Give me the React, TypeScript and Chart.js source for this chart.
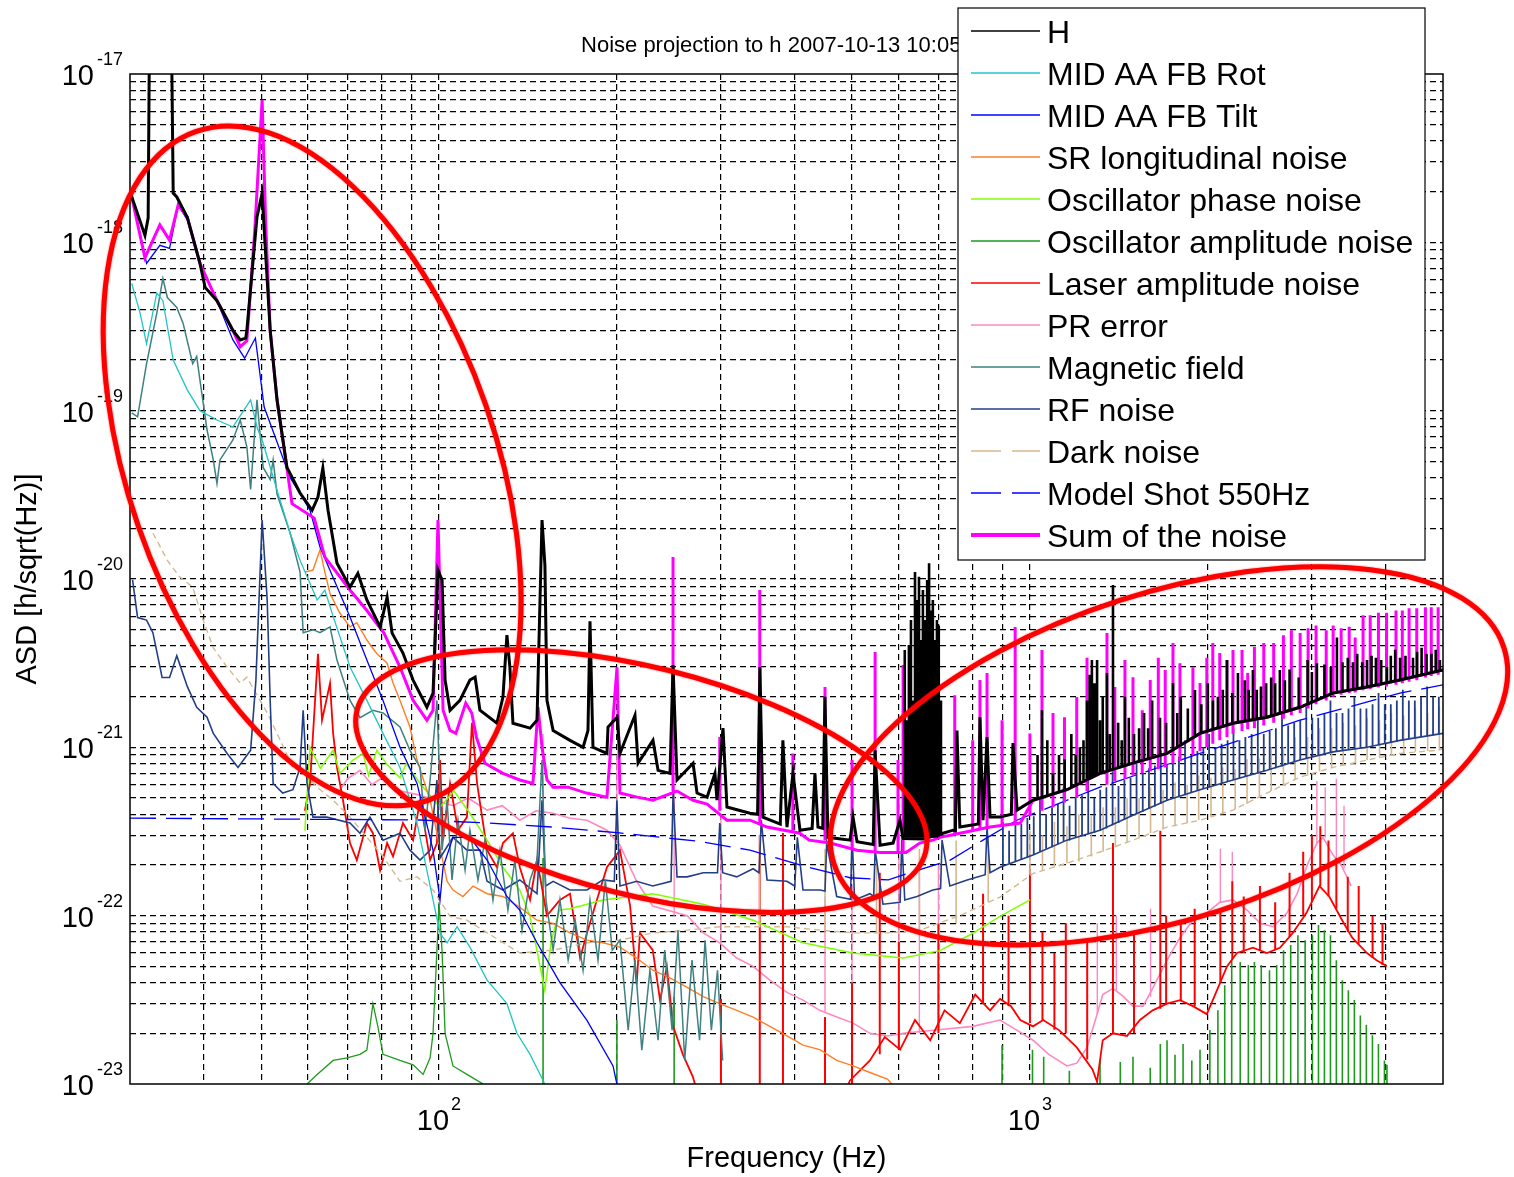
import React, { useEffect, useRef } from "react";
import { Chart, registerables } from "chart.js";

Chart.register(...registerables);

type Pt = [number, number];
type Spk = [number, number, number];

const X_MIN = 30;
const X_MAX = 5000;
const Y_MIN = 1e-23;
const Y_MAX = 1e-17;

const TITLE = "Noise projection to h 2007-10-13 10:05:00";
const X_TITLE = "Frequency (Hz)";
const Y_TITLE = "ASD [h/sqrt(Hz)]";

const X_GRID = [40, 50, 60, 70, 80, 90, 100, 200, 300, 400, 500, 600, 700, 800, 900, 1000, 2000, 3000, 4000];
const Y_GRID = [
  2e-23, 3e-23, 4e-23, 5e-23, 6e-23, 7e-23, 8e-23, 9e-23,
  1e-22, 2e-22, 3e-22, 4e-22, 5e-22, 6e-22, 7e-22, 8e-22, 9e-22,
  1e-21, 2e-21, 3e-21, 4e-21, 5e-21, 6e-21, 7e-21, 8e-21, 9e-21,
  1e-20, 2e-20, 3e-20, 4e-20, 5e-20, 6e-20, 7e-20, 8e-20, 9e-20,
  1e-19, 2e-19, 3e-19, 4e-19, 5e-19, 6e-19, 7e-19, 8e-19, 9e-19,
  1e-18, 2e-18, 3e-18, 4e-18, 5e-18, 6e-18, 7e-18, 8e-18, 9e-18,
];
const X_TICK_LABELS: [number, string][] = [[100, "2"], [1000, "3"]];
const Y_TICK_LABELS: [number, string][] = [
  [1e-23, "-23"], [1e-22, "-22"], [1e-21, "-21"], [1e-20, "-20"], [1e-19, "-19"], [1e-18, "-18"], [1e-17, "-17"],
];

// ---------------- H ----------------
const H_LINE: Pt[] = [
  [30, 2.0e-18], [31.8, 1.1e-18], [32.2, 1.4e-18], [32.4, 3e-17], [35.2, 3e-17], [35.5, 1.96e-18], [36.0, 1.86e-18],
  [37.5, 1.41e-18], [39.4, 7.5e-19], [40.2, 5.4e-19], [42.1, 4.5e-19], [44.8, 3.0e-19], [46.1, 2.63e-19], [47.1, 2.7e-19],
  [47.3, 3.0e-19], [49.2, 1.41e-18], [50.2, 1.96e-18], [50.6, 1.2e-18], [51.8, 3.0e-19], [53.2, 1.16e-19], [55.3, 4.6e-20],
  [58.2, 3.24e-20], [61.0, 2.56e-20], [62.4, 3.07e-20], [63.6, 4.56e-20], [64.9, 2.56e-20], [67.2, 1.24e-20], [70.7, 8.95e-21],
  [72.9, 1.08e-20], [75.5, 7.5e-21], [79.5, 5.18e-21], [81.7, 7.8e-21], [83.3, 4.77e-21], [86.9, 3.63e-21], [90.4, 2.51e-21],
  [95.4, 1.73e-21], [97.7, 2.1e-21], [99.6, 1.13e-20], [101.2, 9.85e-21], [102.4, 2.51e-21], [104.4, 1.66e-21], [108.5, 1.9e-21],
  [112.8, 2.51e-21], [115.1, 2.61e-21], [117.3, 1.66e-21], [125.3, 1.39e-21], [128.3, 1.99e-21], [130.3, 4.64e-21], [131.8, 3.0e-21],
  [133.4, 1.39e-21], [142.6, 1.3e-21], [146.5, 1.45e-21], [149.4, 2.24e-20], [151.1, 1.2e-20], [152.3, 1.9e-21], [156.0, 1.26e-21],
  [166.6, 1.1e-21], [175.3, 1.0e-21], [178.7, 1.26e-21], [180.1, 5.6e-21], [182.2, 1.0e-21], [192.4, 9.2e-22], [193.2, 1.32e-21],
  [200.1, 1.51e-21], [202.4, 9.2e-22], [214.6, 1.55e-21], [217.2, 8.05e-22], [230.2, 1.1e-21], [234.8, 7.3e-22], [246, 7.0e-22],
  [248.9, 3.08e-21], [252.8, 6.4e-22], [269.1, 8.05e-22], [273.3, 5.35e-22], [284.2, 5.06e-22], [293.1, 7.0e-22], [295.4, 4.85e-22],
  [302.4, 1.3e-21], [307.1, 4.42e-22], [335.9, 4.06e-22], [346, 4.0e-22], [349.2, 3.0e-21], [353.3, 3.85e-22], [378, 3.5e-22],
  [381.9, 1.1e-21], [388.0, 3.36e-22], [397.2, 7.0e-22], [408.2, 3.22e-22], [428, 3.3e-22], [432.7, 7.0e-22], [437.8, 3.36e-22],
  [446, 3.3e-22], [449.9, 2.0e-21], [455.2, 2.92e-22], [496.1, 2.81e-22], [501.9, 3.85e-22], [509.8, 2.75e-22], [543, 2.65e-22],
  [546.9, 9.6e-22], [557.7, 2.62e-22], [586.7, 2.7e-22], [602.6, 3.69e-22], [609.7, 2.87e-22], [660, 2.85e-22], [712.6, 3.09e-22],
  [741, 3.22e-22], [748, 3.2e-22], [752.5, 1.26e-21], [761, 3.36e-22], [818, 3.5e-22], [823, 1.51e-21], [833, 3.69e-22],
  [846, 1.15e-21], [856, 3.85e-22], [890, 3.85e-22], [930, 4.0e-22], [936, 1.06e-21], [951, 4.24e-22], [1012, 4.85e-22],
  [1155, 5.6e-22], [1314, 7.0e-22], [1494, 8.05e-22], [1706, 9.2e-22], [1940, 1.21e-21], [2206, 1.39e-21], [2518, 1.51e-21],
  [2863, 1.73e-21], [3256, 2.1e-21], [3718, 2.28e-21], [4228, 2.51e-21], [5000, 2.88e-21],
];
const H_SPIKES: Spk[] = [
  [614, 2.9e-22, 3.78e-21], [619, 2.9e-22, 1.45e-21], [624, 2.9e-22, 4.05e-21], [629, 2.9e-22, 5.7e-21], [634, 2.9e-22, 1.9e-21],
  [639, 2.9e-22, 1.1e-20], [644, 2.9e-22, 7.5e-21], [649, 2.9e-22, 1.03e-20], [654, 2.9e-22, 4.34e-21], [659, 2.9e-22, 8.6e-21],
  [665, 2.9e-22, 5.7e-21], [670, 2.9e-22, 9.85e-21], [675, 2.9e-22, 1.24e-20], [680, 2.9e-22, 6.5e-21], [685, 2.9e-22, 7.5e-21],
  [691, 2.9e-22, 4.34e-21], [696, 2.9e-22, 5.7e-21], [701, 2.95e-22, 5.3e-21], [707, 3.0e-22, 1.9e-21],
  [1030, 4.9e-22, 9e-22], [1048, 4.95e-22, 1.66e-21], [1070, 5.2e-22, 1.1e-21], [1094, 5.3e-22, 7.0e-22], [1120, 5.4e-22, 9e-22],
  [1145, 5.55e-22, 8.5e-22], [1175, 5.8e-22, 1.2e-21], [1195, 6.0e-22, 9e-22], [1215, 6.2e-22, 1.0e-21], [1232, 6.35e-22, 1.1e-21],
  [1249, 6.5e-22, 1.9e-21], [1262, 6.6e-22, 2.7e-21], [1273, 6.7e-22, 3.3e-21],
  [1286, 6.8e-22, 2.4e-21], [1299, 6.9e-22, 3.3e-21], [1314, 7.0e-22, 1.45e-21], [1328, 7.1e-22, 2.0e-21], [1350, 7.2e-22, 2.76e-21],
  [1365, 7.25e-22, 1.2e-21], [1382, 7.3e-22, 9.2e-21], [1410, 7.5e-22, 1.4e-21], [1430, 7.6e-22, 1.1e-21], [1448, 7.7e-22, 2.0e-21],
  [1470, 7.9e-22, 1.5e-21], [1500, 8.05e-22, 1.2e-21], [1530, 8.2e-22, 1.3e-21],
  [1560, 8.4e-22, 1.6e-21], [1585, 8.55e-22, 1.3e-21], [1610, 8.7e-22, 1.9e-21], [1660, 9.0e-22, 1.5e-21], [1700, 9.2e-22, 1.4e-21],
  [1746, 9.5e-22, 2.41e-21], [1775, 1.0e-21, 1.6e-21], [1800, 1.05e-21, 2.0e-21],
  [1850, 1.1e-21, 1.7e-21], [1902, 1.15e-21, 2.19e-21], [1950, 1.2e-21, 1.8e-21], [2000, 1.25e-21, 2.4e-21], [2040, 1.28e-21, 1.9e-21],
  [2080, 1.3e-21, 2.0e-21], [2120, 1.33e-21, 2.2e-21], [2155, 1.35e-21, 3.3e-21], [2200, 1.38e-21, 2.1e-21],
  [2249, 1.4e-21, 2.76e-21], [2310, 1.43e-21, 2.5e-21], [2345, 1.44e-21, 2.2e-21], [2384, 1.45e-21, 2.88e-21], [2420, 1.48e-21, 2.2e-21],
  [2460, 1.5e-21, 2.3e-21], [2510, 1.51e-21, 2.4e-21], [2560, 1.53e-21, 2.6e-21], [2600, 1.56e-21, 2.4e-21],
  [2648, 1.6e-21, 2.88e-21], [2700, 1.62e-21, 2.5e-21], [2750, 1.65e-21, 2.9e-21], [2850, 1.72e-21, 2.6e-21], [2950, 1.8e-21, 3.3e-21],
  [3000, 1.85e-21, 2.8e-21], [3059, 1.9e-21, 3.16e-21], [3150, 2.0e-21, 3.1e-21], [3230, 2.05e-21, 3.0e-21],
  [3307, 2.1e-21, 4.5e-21], [3380, 2.12e-21, 3.2e-21], [3450, 2.15e-21, 3.4e-21], [3520, 2.18e-21, 3.2e-21], [3580, 2.2e-21, 3.6e-21],
  [3650, 2.24e-21, 3.2e-21], [3718, 2.28e-21, 3.3e-21], [3785, 2.3e-21, 3.5e-21], [3850, 2.33e-21, 3.4e-21], [3930, 2.37e-21, 3.3e-21],
  [4019, 2.4e-21, 3.0e-21], [4080, 2.44e-21, 3.5e-21], [4150, 2.48e-21, 3.8e-21], [4230, 2.51e-21, 3.4e-21], [4320, 2.55e-21, 3.5e-21],
  [4448, 2.6e-21, 3.4e-21], [4520, 2.65e-21, 3.7e-21], [4600, 2.7e-21, 3.9e-21], [4690, 2.74e-21, 3.6e-21],
  [4780, 2.78e-21, 3.6e-21], [4860, 2.82e-21, 3.8e-21], [4940, 2.85e-21, 3.3e-21],
];

// ---------------- MID AA FB Rot ----------------
const ROT_LINE: Pt[] = [
  [30.2, 5.7e-19], [31.2, 3.8e-19], [32.0, 2.5e-19], [33.3, 5.0e-19], [34.1, 4.5e-19], [35.5, 2.0e-19], [37.5, 1.33e-19],
  [39.4, 1.0e-19], [42.1, 8.8e-20], [44.8, 8.0e-20], [48.0, 1.16e-19], [49.2, 8.0e-20], [50.4, 6.4e-20], [53.2, 3.37e-20],
  [56.0, 1.87e-20], [58.2, 1.29e-20], [62.2, 7.5e-21], [64.1, 8.6e-21], [66.2, 6.0e-21], [70.7, 3.0e-21], [75.5, 1.9e-21],
  [80.4, 1.21e-21], [85.9, 7.6e-22], [91.8, 3.55e-22], [97.7, 1.24e-22], [100.4, 7.87e-23], [103.2, 6.9e-23], [107.3, 8.6e-23],
  [112.8, 6.5e-23], [120.6, 4.14e-23], [130.3, 3.0e-23], [135.5, 2.0e-23], [142.6, 1.5e-23], [150, 1.05e-23], [153, 9e-24],
];

// ---------------- MID AA FB Tilt ----------------
const TILT_LINE: Pt[] = [
  [30.2, 1.9e-18], [32.0, 7.5e-19], [33.7, 9.6e-19], [35.0, 9.2e-19], [36.2, 1.67e-18], [37.5, 1.36e-18], [39.4, 7.5e-19],
  [42.1, 4.5e-19], [44.8, 2.63e-19], [46.9, 2.05e-19], [48.9, 2.7e-19], [50.6, 1.05e-19], [56.0, 4.0e-20], [60.5, 2.56e-20],
  [62.9, 1.55e-20], [70.7, 5.94e-21], [75.5, 3.3e-21], [80.4, 1.9e-21], [85.9, 1.0e-21], [91.8, 6.1e-22], [97.7, 2.45e-22],
  [100.4, 1.24e-22], [101.6, 1.94e-22], [105.6, 2.92e-22], [112.8, 2.92e-22], [120.6, 2.14e-22], [130.3, 1.3e-22], [137, 1.08e-22],
  [146.5, 6.9e-23], [160.2, 4.0e-23], [178, 2.39e-23], [197, 1.28e-23], [200, 1.0e-23],
];

// ---------------- SR longitudinal noise ----------------
const SR_LINE: Pt[] = [
  [59.3, 1.1e-20], [61.2, 1.13e-20], [62.9, 1.49e-20], [64.1, 1.1e-20], [65.4, 8.2e-21], [67.9, 6.3e-21], [70.7, 5.2e-21],
  [72.6, 5.5e-21], [75.5, 4.34e-21], [78.5, 3.6e-21], [81.7, 3.16e-21], [83.6, 2.41e-21], [85.9, 1.9e-21], [89.3, 1.32e-21],
  [91.8, 8.4e-22], [96.6, 4.85e-22], [99.2, 3.09e-22], [103.2, 1.6e-22], [105.6, 1.42e-22], [109.8, 1.3e-22], [114.2, 1.5e-22],
  [120.6, 1.35e-22], [128.3, 1.3e-22], [137, 1.12e-22], [146.5, 9.4e-23], [156, 9.0e-23], [166.6, 7.9e-23], [178, 7.15e-23],
  [189.4, 6.9e-23], [202.4, 6.5e-23], [216, 5.6e-23], [230, 4.74e-23], [245, 4.3e-23], [263, 3.75e-23], [280, 3.3e-23],
  [298.6, 3.0e-23], [319, 2.74e-23], [340, 2.5e-23], [363, 2.2e-23], [388, 1.93e-23], [413, 1.7e-23], [441, 1.6e-23],
  [471, 1.38e-23], [502, 1.28e-23], [536, 1.17e-23], [574, 1.07e-23], [591, 9.5e-24],
];

// ---------------- Oscillator phase noise ----------------
const PHASE_LINE: Pt[] = [
  [59.3, 3.2e-22], [60.5, 1.0e-21], [63, 7.5e-22], [66.2, 9.6e-22], [68, 7e-22], [71.5, 8.4e-22], [74.4, 9.2e-22], [76, 6.8e-22],
  [78.5, 9.6e-22], [81.7, 7.9e-22], [85.9, 6.6e-22], [88, 8e-22], [92.9, 6.1e-22], [100.4, 4.4e-22], [106, 5.5e-22],
  [112.8, 4.06e-22], [120.6, 2.81e-22], [128.3, 1.94e-22], [137, 1.42e-22], [142.6, 9.9e-23], [146.5, 6.2e-23], [151, 3.6e-23],
  [155, 7.15e-23], [160, 1.08e-22], [166.6, 1.1e-22], [189.4, 1.24e-22], [230, 1.35e-22], [280, 1.17e-22], [340, 9.4e-23],
  [413, 6.9e-23], [502, 6.0e-23], [610, 5.6e-23], [704, 6.2e-23], [792, 7.7e-23], [890, 9.9e-23], [1000, 1.24e-22],
];

// ---------------- Oscillator amplitude noise ----------------
const AMP_LINE: Pt[] = [
  [59.8, 1.0e-23], [62.2, 1.14e-23], [66.2, 1.38e-23], [69.9, 1.43e-23], [73.5, 1.5e-23], [75.5, 1.59e-23], [77.3, 3.0e-23],
  [78.8, 2.2e-23], [80.4, 1.5e-23], [85.9, 1.38e-23], [90.4, 1.3e-23], [94, 1.14e-23], [96.6, 1.43e-23], [97.7, 2.0e-23],
  [99.2, 6.2e-23], [100, 1.2e-22], [101.2, 6.2e-23], [102.4, 2.0e-23], [105.6, 1.28e-23], [111.5, 1.14e-23], [118.7, 1.0e-23],
  [121.9, 7e-24],
];
const AMP_SPIKES: Spk[] = [
  [150, 5e-24, 2.2e-22], [200, 5e-24, 2.4e-23], [250, 5e-24, 3.3e-23], [897, 5e-24, 1.7e-23], [1010, 5e-24, 1.6e-23],
  [1055, 5e-24, 1.45e-23], [1166, 5e-24, 1.2e-23], [1314, 5e-24, 1.38e-23], [1422, 5e-24, 1.35e-23], [1494, 5e-24, 1.45e-23],
  [1598, 5e-24, 1.25e-23], [1662, 5e-24, 1.73e-23], [1706, 5e-24, 1.82e-23], [1760, 5e-24, 1.49e-23], [1816, 5e-24, 1.73e-23],
  [1879, 5e-24, 1.38e-23], [1940, 5e-24, 1.6e-23], [2016, 5e-24, 2.09e-23], [2080, 5e-24, 2.74e-23], [2136, 5e-24, 3.86e-23],
  [2195, 5e-24, 5.44e-23], [2269, 5e-24, 5.3e-23], [2342, 5e-24, 5.1e-23], [2398, 5e-24, 5.3e-23], [2463, 5e-24, 5.1e-23],
  [2543, 5e-24, 4.74e-23], [2615, 5e-24, 5.1e-23], [2686, 5e-24, 6.24e-23], [2762, 5e-24, 6.7e-23], [2841, 5e-24, 7.66e-23],
  [2922, 5e-24, 7.15e-23], [3006, 5e-24, 7.66e-23], [3078, 5e-24, 8.8e-23], [3150, 5e-24, 8.2e-23], [3225, 5e-24, 7.66e-23],
  [3300, 5e-24, 5.44e-23], [3378, 5e-24, 4.14e-23], [3458, 5e-24, 3.6e-23], [3540, 5e-24, 3.15e-23], [3623, 5e-24, 2.55e-23],
  [3709, 5e-24, 2.25e-23], [3798, 5e-24, 1.95e-23], [3888, 5e-24, 1.73e-23], [3980, 5e-24, 1.38e-23], [4019, 5e-24, 1.3e-23],
];

// ---------------- Laser amplitude noise ----------------
const LASER_LINE: Pt[] = [
  [59.3, 4.2e-22], [60.5, 6.1e-22], [61.7, 1.9e-21], [62.4, 3.6e-21], [63.4, 1.45e-21], [65.4, 2.4e-21], [66.2, 1.21e-21],
  [67.2, 7.6e-22], [68.8, 4.85e-22], [70.7, 2.7e-22], [72.6, 2.14e-22], [75.5, 3.55e-22], [77.3, 3.09e-22], [79.5, 1.86e-22],
  [81.7, 2.7e-22], [83.6, 2.25e-22], [86.9, 3.55e-22], [90.4, 2.81e-22], [92.9, 4.85e-22], [96.6, 2.14e-22], [99.2, 2.7e-22],
  [100.4, 8.4e-22], [101.6, 2.81e-22], [104.4, 6.1e-22], [107.7, 3.22e-22], [111.5, 3.85e-22], [113.7, 1.4e-21], [116, 6.1e-22],
  [120.6, 2.45e-22], [125.3, 1.94e-22], [128.3, 2.7e-22], [133.4, 3.09e-22], [137, 1.94e-22], [142.6, 1.24e-22], [146.5, 2.14e-22],
  [152.3, 1.0e-22], [160.2, 1.24e-22], [166.6, 1.35e-22], [173.3, 5.6e-23], [178, 7.9e-23], [185, 1.24e-22], [192.4, 1.94e-22],
  [202.4, 2.45e-22], [210.6, 1.14e-22], [216, 3.9e-23], [218.8, 7.9e-23], [230, 6.24e-23], [236.6, 3.15e-23], [243, 5.0e-23],
  [249, 2.2e-23], [258.6, 1.5e-23], [269, 1.1e-23], [276, 8e-24], [480, 8e-24], [496, 1.05e-23], [536, 1.38e-23], [568, 1.9e-23],
  [603, 1.6e-23], [639, 2.4e-23], [678, 1.82e-23], [717, 2.74e-23], [761, 2.3e-23], [808, 3.4e-23], [856, 2.74e-23],
  [890, 3.2e-23], [929, 2.9e-23], [963, 2.4e-23], [1012, 2.2e-23], [1053, 2.4e-23], [1120, 2.09e-23], [1200, 1.65e-23],
  [1276, 1.22e-23], [1299, 1.03e-23], [1328, 1.82e-23], [1382, 2.0e-23], [1460, 1.93e-23], [1535, 2.4e-23], [1613, 2.74e-23],
  [1706, 3.0e-23], [1794, 3.15e-23], [1887, 2.9e-23], [1992, 2.6e-23], [2039, 3.15e-23], [2155, 5.0e-23], [2240, 6.0e-23],
  [2384, 6.45e-23], [2518, 6.0e-23], [2648, 6.45e-23], [2785, 7.9e-23], [2938, 1.04e-22], [3090, 1.5e-22], [3210, 1.3e-22],
  [3375, 9.4e-23], [3510, 7.4e-23], [3718, 6.0e-23], [3860, 5.44e-23], [4019, 5.0e-23],
];
const LASER_SPIKES: Spk[] = [
  [300, 5e-24, 3.2e-23], [349, 5e-24, 3.0e-22], [382, 5e-24, 3.1e-22], [450, 5e-24, 2.5e-23], [500, 5e-24, 4e-23],
  [557, 1.5e-23, 1.8e-22], [600, 1.6e-23, 7e-23], [700, 2e-23, 9e-23], [833, 3e-23, 1.35e-22], [920, 2.9e-23, 1.0e-22],
  [1000, 2.3e-23, 1.9e-22], [1050, 2.4e-23, 8e-23], [1100, 2.1e-23, 6e-23], [1150, 2e-23, 9e-23], [1250, 1.4e-23, 7e-23],
  [1382, 2e-23, 2.7e-22], [1500, 2e-23, 8e-23], [1662, 2.8e-23, 3.2e-22], [1700, 3e-23, 1.0e-22], [1800, 3.1e-23, 9e-23],
  [1900, 2.9e-23, 1.1e-22], [2100, 4e-23, 1.1e-22], [2200, 5.5e-23, 1.6e-22], [2300, 6e-23, 1.3e-22], [2450, 6.2e-23, 1.5e-22],
  [2600, 6.3e-23, 1.2e-22], [2750, 7.5e-23, 1.8e-22], [2900, 1.0e-22, 2.4e-22], [3000, 1.2e-22, 3.0e-22], [3100, 1.5e-22, 3.4e-22],
  [3200, 1.3e-22, 2.8e-22], [3300, 1.1e-22, 2.2e-22], [3450, 8e-23, 1.7e-22], [3600, 6.8e-23, 1.5e-22], [3800, 5.6e-23, 1.0e-22],
  [3950, 5.1e-23, 9e-23],
];

// ---------------- PR error ----------------
const PR_LINE: Pt[] = [
  [68, 5.6e-22], [70, 6.5e-22], [73.5, 7.3e-22], [77, 6e-22], [80.4, 6.65e-22], [86, 5.5e-22], [92.9, 5.2e-22], [99, 4.8e-22],
  [105.6, 4.5e-22], [112, 5e-22], [120.6, 4.24e-22], [128, 4.5e-22], [137, 3.69e-22], [146, 4.2e-22], [156, 4.06e-22],
  [166, 3.8e-22], [178, 3.69e-22], [192.4, 3.22e-22], [202.4, 2.62e-22], [216, 1.6e-22], [230, 1.14e-22], [263, 1.0e-22],
  [280, 7.9e-23], [298.6, 6.9e-23], [319, 5.6e-23], [340, 5.0e-23], [363, 4.14e-23], [388, 3.5e-23], [413, 3.15e-23],
  [441, 2.74e-23], [471, 2.5e-23], [502, 2.3e-23], [536, 2.0e-23], [574, 1.93e-23], [610, 2.0e-23], [700, 2.1e-23],
  [800, 2.2e-23], [890, 2.4e-23], [950, 2.09e-23], [1012, 1.82e-23], [1076, 1.5e-23], [1155, 1.28e-23], [1200, 1.33e-23],
  [1249, 1.65e-23], [1299, 2.6e-23], [1328, 3.4e-23], [1382, 3.7e-23], [1440, 3.3e-23], [1494, 2.9e-23], [1554, 2.9e-23],
  [1613, 3.7e-23], [1706, 5.44e-23], [1794, 7.4e-23], [1887, 9.4e-23], [1992, 1.04e-22], [2095, 1.2e-22], [2206, 1.24e-22],
  [2330, 1.08e-22], [2453, 9.0e-23], [2579, 8.6e-23], [2723, 1.04e-22], [2832, 1.35e-22], [2946, 2.0e-22], [3059, 2.7e-22],
  [3132, 2.92e-22], [3256, 2.3e-22], [3362, 2.0e-22], [3496, 1.5e-22],
];
const PR_SPIKES: Spk[] = [
  [150, 4e-22, 1.2e-21], [200, 3e-22, 9e-22], [250, 1.0e-22, 6e-22], [300, 6.9e-23, 4e-22], [349, 4.8e-23, 2.5e-22],
  [450, 2.7e-23, 1.3e-22], [500, 2.3e-23, 1.5e-22], [600, 2.0e-23, 2.2e-22], [650, 2.0e-23, 1.8e-22], [700, 2.1e-23, 2.0e-22],
  [1300, 2.6e-23, 9e-23], [1400, 3.6e-23, 1.0e-22], [1600, 3.3e-23, 1.1e-22], [2100, 1.2e-22, 2.5e-22], [2200, 1.24e-22, 2.4e-22],
  [3059, 2.7e-22, 6.3e-22], [3160, 2.9e-22, 5.8e-22], [3300, 2.2e-22, 6.5e-22], [3400, 1.9e-22, 4.5e-22],
];

// ---------------- Magnetic field ----------------
const MAG_LINE: Pt[] = [
  [30.2, 9.7e-20], [30.9, 9.2e-20], [32.0, 1.9e-19], [33.3, 3.8e-19], [34.1, 6.1e-19], [34.7, 4.7e-19], [36.0, 4.1e-19],
  [36.9, 3.3e-19], [38.3, 1.9e-19], [38.9, 2.1e-19], [39.4, 1.52e-19], [40.5, 7.7e-20], [41.5, 5.1e-20], [42.1, 3.7e-20],
  [42.6, 5.1e-20], [44.8, 6.7e-20], [46.1, 8.8e-20], [47.3, 6.1e-20], [48.0, 3.4e-20], [49.2, 1.16e-19], [50.4, 4.6e-20],
  [51.8, 3.9e-20], [52.4, 5.1e-20], [53.2, 3.2e-20], [56.0, 1.87e-20], [58.2, 1.1e-20], [58.9, 4.8e-21], [61.2, 5.0e-21],
  [62.9, 4.8e-21], [65.4, 5.2e-21], [67.2, 3.3e-21], [70.7, 1.9e-21], [73.5, 1.5e-21], [77.3, 1.66e-21], [80.4, 1.6e-21],
  [85.9, 1.32e-21], [89.3, 9.6e-22], [92.9, 7.6e-22], [94.7, 3.2e-22], [96.6, 6.4e-22], [99.2, 1.9e-21], [101.2, 2.45e-22],
  [103.2, 4.85e-22], [105.2, 1.63e-22], [107.7, 3.7e-22], [110.7, 1.86e-22], [112.8, 3.22e-22], [116.4, 1.63e-22],
  [119.6, 2.81e-22], [123.4, 1.24e-22], [126.8, 2.45e-22], [130.8, 1.08e-22], [134.4, 2.14e-22], [138.2, 8.2e-23],
  [142.6, 1.63e-22], [146.5, 2.14e-22], [149.4, 8.4e-22], [151.7, 1.24e-22], [156, 6.24e-23], [160.2, 1.24e-22],
  [165.4, 5.44e-23], [170, 9.4e-23], [175.3, 4.74e-23], [180.1, 1.24e-22], [185.8, 5.44e-23], [191.2, 1.63e-22],
  [196.4, 6.24e-23], [202.4, 7.15e-23], [209, 2.09e-23], [214.6, 5.44e-23], [220.4, 1.59e-23], [227.5, 4.74e-23],
  [234.8, 1.82e-23], [241, 6.24e-23], [248, 2.09e-23], [253.7, 8.2e-23], [260.5, 1.38e-23], [268, 5.44e-23], [276, 1.82e-23],
  [282, 7.15e-23], [289, 2.09e-23], [296, 4.74e-23], [302, 1.38e-23],
];

// ---------------- RF noise ----------------
const RF_LINE: Pt[] = [
  [30.3, 9.9e-21], [30.9, 5.9e-21], [32.0, 5.7e-21], [32.8, 4.8e-21], [34.0, 2.6e-21], [35.0, 2.6e-21], [36.0, 3.5e-21],
  [37.5, 2.3e-21], [38.9, 1.73e-21], [40.5, 1.51e-21], [41.5, 1.21e-21], [43.8, 9.2e-22], [45.7, 7.6e-22], [48.0, 9.6e-22],
  [49.0, 2.5e-21], [50.2, 2.24e-20], [51.2, 7.5e-21], [51.8, 1.9e-21], [52.4, 6.1e-22], [54.4, 5.35e-22], [56.6, 5.6e-22],
  [58.2, 7.6e-22], [58.9, 1.66e-21], [59.8, 6.1e-22], [61.2, 3.85e-22], [64.6, 3.85e-22], [70.7, 3.55e-22], [73.5, 3.09e-22],
  [76.4, 3.85e-22], [80.4, 2.81e-22], [85.9, 3.09e-22], [89.3, 2.45e-22], [92.9, 2.14e-22], [96.6, 2.45e-22], [99.2, 6.4e-22],
  [100.4, 2.2e-22], [105.6, 2.92e-22], [111.5, 2.45e-22], [117.3, 2.45e-22], [120.6, 1.6e-22], [128.3, 1.42e-22], [137, 1.63e-22],
  [146.5, 1.35e-22], [149.4, 4.85e-22], [151.5, 1.5e-22], [156, 1.6e-22], [166.6, 1.42e-22], [178, 1.42e-22], [189.4, 1.63e-22],
  [198, 1.6e-22], [200, 4.85e-22], [202.4, 1.5e-22], [216, 1.6e-22], [230, 1.5e-22], [247, 1.6e-22], [249, 5.6e-22],
  [252.8, 1.7e-22], [263, 1.7e-22], [280, 1.8e-22], [296, 1.8e-22], [298.6, 3.55e-22], [302, 1.8e-22], [319, 1.7e-22],
  [340, 1.9e-22], [348, 1.8e-22], [351, 3.69e-22], [359, 1.63e-22], [388, 1.6e-22], [400, 1.5e-22], [404, 2.92e-22],
  [413, 1.42e-22], [441, 1.42e-22], [450, 1.4e-22], [453, 2.7e-22], [471, 1.3e-22], [497, 1.25e-22], [500, 3.09e-22],
  [505, 1.24e-22], [536, 1.35e-22], [544, 1.3e-22], [547, 2.45e-22], [564, 1.17e-22], [603, 1.2e-22], [607, 2.81e-22],
  [614, 1.24e-22], [644, 1.3e-22], [685, 1.42e-22], [706, 1.45e-22], [710, 2.81e-22], [732, 1.5e-22], [783, 1.63e-22],
  [840, 1.75e-22], [846, 3.36e-22], [856, 1.8e-22], [890, 1.94e-22], [1012, 2.29e-22], [1155, 2.81e-22], [1314, 3.22e-22],
  [1494, 3.95e-22], [1706, 4.85e-22], [1940, 5.6e-22], [2206, 6.4e-22], [2518, 7.3e-22], [2863, 8.4e-22], [3256, 9.4e-22],
  [3718, 1.0e-21], [4228, 1.1e-21], [5000, 1.21e-21],
];
const RF_SPIKES: Spk[] = [
  [900, 1.97e-22, 3.6e-22], [922, 2.05e-22, 3.2e-22], [945, 2.1e-22, 4.5e-22], [967, 2.15e-22, 3.5e-22], [990, 2.2e-22, 3.8e-22],
  [1015, 2.3e-22, 3.9e-22], [1040, 2.4e-22, 5.0e-22], [1065, 2.5e-22, 4.0e-22], [1090, 2.55e-22, 4.4e-22], [1115, 2.65e-22, 4.6e-22],
  [1140, 2.75e-22, 5.8e-22], [1167, 2.8e-22, 4.5e-22], [1195, 2.9e-22, 5.0e-22], [1225, 3.0e-22, 5.2e-22], [1255, 3.05e-22, 6.6e-22],
  [1285, 3.1e-22, 5.0e-22], [1315, 3.2e-22, 5.6e-22], [1347, 3.3e-22, 5.8e-22], [1380, 3.45e-22, 7.2e-22], [1412, 3.55e-22, 5.9e-22],
  [1445, 3.7e-22, 6.4e-22], [1480, 3.85e-22, 6.6e-22], [1515, 4.0e-22, 8.0e-22], [1552, 4.15e-22, 7.0e-22], [1590, 4.3e-22, 7.5e-22],
  [1627, 4.45e-22, 7.8e-22], [1665, 4.6e-22, 9.6e-22], [1705, 4.8e-22, 8.0e-22], [1745, 4.95e-22, 8.5e-22], [1787, 5.05e-22, 8.8e-22],
  [1830, 5.2e-22, 1.1e-21], [1875, 5.35e-22, 9.0e-22], [1920, 5.5e-22, 9.5e-22], [1965, 5.65e-22, 1.0e-21], [2010, 5.8e-22, 1.2e-21],
  [2060, 5.95e-22, 1.0e-21], [2110, 6.1e-22, 1.05e-21], [2160, 6.25e-22, 1.1e-21], [2210, 6.4e-22, 1.3e-21], [2262, 6.55e-22, 1.1e-21],
  [2315, 6.7e-22, 1.15e-21], [2372, 6.85e-22, 1.2e-21], [2430, 7.0e-22, 1.45e-21], [2487, 7.2e-22, 1.2e-21], [2545, 7.35e-22, 1.25e-21],
  [2607, 7.5e-22, 1.3e-21], [2670, 7.7e-22, 1.6e-21], [2735, 7.95e-22, 1.35e-21], [2800, 8.2e-22, 1.4e-21], [2867, 8.4e-22, 1.45e-21],
  [2935, 8.6e-22, 1.75e-21], [3005, 8.75e-22, 1.5e-21], [3075, 8.9e-22, 1.5e-21], [3150, 9.1e-22, 1.6e-21], [3225, 9.3e-22, 1.9e-21],
  [3302, 9.45e-22, 1.6e-21], [3380, 9.6e-22, 1.6e-21], [3460, 9.7e-22, 1.7e-21], [3540, 9.8e-22, 2.0e-21], [3625, 9.9e-22, 1.7e-21],
  [3710, 1.0e-21, 1.7e-21], [3800, 1.02e-21, 1.8e-21], [3890, 1.04e-21, 2.1e-21], [3985, 1.05e-21, 1.8e-21], [4080, 1.07e-21, 1.8e-21],
  [4177, 1.08e-21, 1.9e-21], [4275, 1.1e-21, 2.2e-21], [4377, 1.12e-21, 1.9e-21], [4480, 1.14e-21, 1.9e-21], [4590, 1.15e-21, 2.0e-21],
  [4700, 1.17e-21, 2.3e-21], [4810, 1.18e-21, 2.0e-21], [4920, 1.2e-21, 2.0e-21],
];

// ---------------- Dark noise ----------------
const DARK_LINE: Pt[] = [
  [32.8, 1.87e-20], [33.3, 1.7e-20], [34.7, 1.29e-20], [36.4, 1.03e-20], [38.3, 8.95e-21], [39.9, 5.7e-21], [41.5, 3.9e-21],
  [43.8, 2.99e-21], [46.1, 2.41e-21], [47.3, 2.61e-21], [49.8, 1.9e-21], [51.2, 1.6e-21], [53.2, 1.21e-21], [56.6, 7.6e-22],
  [58.2, 7.3e-22], [62.2, 5.8e-22], [66.2, 4.85e-22], [70.7, 3.85e-22], [75.5, 2.92e-22], [80.4, 2.25e-22], [85.9, 1.6e-22],
  [91.8, 1.7e-22], [97.7, 1.42e-22], [104.4, 9.9e-23], [111.5, 9.4e-23], [118.7, 8.2e-23], [137, 6.0e-23], [156, 6.24e-23],
  [178, 6.9e-23], [202.4, 7.15e-23], [230, 7.9e-23], [263, 8.2e-23], [299, 8.6e-23], [340, 8.6e-23], [388, 8.6e-23],
  [441, 8.2e-23], [502, 7.9e-23], [574, 7.9e-23], [651, 8.2e-23], [761, 1.0e-22], [890, 1.29e-22], [1012, 1.78e-22],
  [1155, 2.05e-22], [1314, 2.39e-22], [1494, 2.81e-22], [1706, 3.36e-22], [1940, 3.69e-22], [2206, 4.24e-22], [2518, 5.35e-22],
  [2863, 6.65e-22], [3256, 7.6e-22], [3718, 8.4e-22], [4228, 9.2e-22], [4880, 9.6e-22], [5000, 9.8e-22],
];
const DARK_SPIKES: Spk[] = [
  [349, 8.6e-23, 3e-22], [450, 8.3e-23, 2.5e-22], [550, 7.9e-23, 2.2e-22], [650, 8.2e-23, 2.5e-22], [750, 9e-23, 2.8e-22],
  [850, 1.2e-22, 3e-22], [1000, 1.75e-22, 3.2e-22], [1050, 1.85e-22, 3.0e-22], [1100, 1.95e-22, 3.6e-22], [1155, 2.05e-22, 3.4e-22],
  [1210, 2.1e-22, 4.0e-22], [1270, 2.25e-22, 3.9e-22], [1330, 2.4e-22, 4.4e-22], [1395, 2.55e-22, 4.4e-22],
  [1460, 2.7e-22, 5.0e-22], [1530, 2.9e-22, 5.0e-22], [1600, 3.1e-22, 5.8e-22], [1680, 3.25e-22, 5.6e-22], [1760, 3.4e-22, 6.2e-22],
  [1845, 3.55e-22, 6.0e-22], [1930, 3.7e-22, 6.8e-22], [2025, 3.85e-22, 6.6e-22], [2120, 4.0e-22, 7.6e-22], [2225, 4.3e-22, 7.4e-22],
  [2330, 4.6e-22, 8.5e-22], [2445, 5.0e-22, 8.6e-22], [2560, 5.5e-22, 1.0e-21], [2685, 5.95e-22, 1.0e-21], [2810, 6.4e-22, 1.15e-21],
  [2950, 6.8e-22, 1.15e-21], [3090, 7.2e-22, 1.3e-21], [3240, 7.5e-22, 1.3e-21], [3390, 7.8e-22, 1.4e-21], [3555, 8.1e-22, 1.35e-21],
  [3720, 8.4e-22, 1.5e-21], [3905, 8.7e-22, 1.45e-21], [4090, 9.0e-22, 1.6e-21], [4290, 9.2e-22, 1.55e-21], [4490, 9.4e-22, 1.7e-21],
  [4710, 9.5e-22, 1.6e-21], [4930, 9.6e-22, 1.75e-21],
];

// ---------------- Model Shot 550Hz ----------------
const SHOT_LINE: Pt[] = [
  [30, 3.8e-22], [93, 3.7e-22], [121, 3.55e-22], [156, 3.36e-22], [202, 3.1e-22], [276, 2.76e-22], [336, 2.45e-22],
  [408, 2.0e-22], [496, 1.68e-22], [576, 1.63e-22], [645, 1.86e-22], [733, 2.14e-22], [833, 2.81e-22], [950, 3.69e-22],
  [1314, 5.8e-22], [1940, 9.2e-22], [2863, 1.45e-21], [4228, 2.1e-21], [5000, 2.35e-21],
];

// ---------------- Sum of the noise ----------------
const SUM_LINE: Pt[] = [
  [30.2, 1.86e-18], [31.8, 8.1e-19], [33.7, 1.27e-18], [35.0, 1.03e-18], [36.2, 1.67e-18], [37.5, 1.41e-18], [39.4, 7.5e-19],
  [42.1, 4.5e-19], [44.8, 3.0e-19], [46.1, 2.4e-19], [47.3, 2.6e-19], [48.8, 1.2e-18], [50.2, 7.0e-18], [50.9, 1.3e-18],
  [51.8, 3.0e-19], [53.2, 1.16e-19], [56.4, 2.8e-20], [61.5, 2.3e-20], [64.1, 1.35e-20], [70.7, 8.6e-21], [75.5, 6.5e-21],
  [80.7, 4.77e-21], [85.9, 3.0e-21], [90.4, 1.9e-21], [95.4, 1.45e-21], [97.7, 1.66e-21], [99.6, 2.24e-20], [101.6, 1.66e-21],
  [104.4, 1.26e-21], [106.8, 1.21e-21], [111.0, 1.83e-21], [113.6, 1.6e-21], [115.7, 1.15e-21], [119.6, 8.05e-22],
  [128.3, 7.0e-22], [137.0, 6.4e-22], [144.2, 6.1e-22], [147.1, 1.73e-21], [149.4, 1.0e-21], [152.3, 6.4e-22], [156, 5.8e-22],
  [165.4, 5.8e-22], [177.6, 5.35e-22], [192.4, 5.06e-22], [200.1, 2.99e-21], [202.4, 5.35e-22], [216.4, 5.06e-22],
  [230.2, 4.85e-22], [252.8, 5.5e-22], [269.1, 4.85e-22], [284.2, 4.6e-22], [307, 3.69e-22], [336, 3.69e-22], [359, 3.36e-22],
  [408, 3.09e-22], [423, 2.81e-22], [459, 2.7e-22], [510, 2.45e-22], [558, 2.37e-22], [587, 2.37e-22], [617, 2.37e-22],
  [651, 2.7e-22], [685, 2.81e-22], [704, 2.92e-22], [761, 3.09e-22], [856, 3.36e-22], [963, 3.55e-22], [1012, 4.85e-22],
  [1155, 5.6e-22], [1314, 7.0e-22], [1494, 8.05e-22], [1706, 9.2e-22], [1940, 1.21e-21], [2206, 1.39e-21], [2518, 1.51e-21],
  [2863, 1.73e-21], [3256, 2.1e-21], [3718, 2.28e-21], [4228, 2.51e-21], [5000, 2.88e-21],
];
const SUM_SPIKES: Spk[] = [
  [248.9, 5.5e-22, 1.35e-20], [298.6, 4.2e-22, 1.15e-21], [349, 3.5e-22, 8.6e-21], [397, 3.2e-22, 9.2e-22], [450, 2.8e-22, 2.28e-21],
  [500, 2.5e-22, 8.4e-22], [547, 2.4e-22, 3.68e-21], [598, 2.37e-22, 8.4e-22], [610, 2.37e-22, 3.08e-21], [746, 3.0e-22, 2.04e-21],
  [800, 3.2e-22, 1.1e-21], [823, 3.25e-22, 2.51e-21], [846, 3.3e-22, 2.76e-21], [897, 3.4e-22, 1.45e-21], [944, 3.5e-22, 5.18e-21],
  [1000, 3.9e-22, 1.21e-21], [1048, 4.2e-22, 3.78e-21], [1094, 4.4e-22, 1.6e-21], [1144, 4.7e-22, 1.51e-21], [1200, 5.0e-22, 1.99e-21],
  [1249, 5.5e-22, 3.4e-21], [1350, 6.0e-22, 4.77e-21], [1392, 6.3e-22, 2.28e-21], [1448, 6.5e-22, 3.3e-21], [1494, 6.8e-22, 2.61e-21],
  [1549, 7.0e-22, 1.66e-21], [1598, 7.2e-22, 2.51e-21], [1649, 7.4e-22, 3.4e-21], [1694, 7.6e-22, 2.88e-21], [1746, 8.0e-22, 4.16e-21],
  [1794, 8.3e-22, 3.16e-21], [1887, 9.0e-22, 2.99e-21], [1940, 9.5e-22, 2.41e-21], [1992, 1.0e-21, 3.4e-21], [2039, 1.05e-21, 4.16e-21],
  [2095, 1.1e-21, 3.63e-21], [2155, 1.15e-21, 3.3e-21], [2206, 1.2e-21, 3.78e-21], [2285, 1.25e-21, 3.78e-21], [2336, 1.28e-21, 2.76e-21],
  [2398, 1.3e-21, 3.94e-21], [2487, 1.35e-21, 4.16e-21], [2585, 1.4e-21, 4.16e-21], [2685, 1.48e-21, 4.64e-21], [2769, 1.55e-21, 4.96e-21],
  [2866, 1.6e-21, 4.77e-21], [2956, 1.7e-21, 5.1e-21], [3049, 1.8e-21, 5.3e-21], [3172, 1.9e-21, 4.96e-21], [3259, 2.0e-21, 5.3e-21],
  [3362, 2.05e-21, 5.1e-21], [3469, 2.1e-21, 5.2e-21], [3551, 2.12e-21, 4.5e-21], [3662, 2.18e-21, 6.1e-21], [3765, 2.22e-21, 6.1e-21],
  [3888, 2.27e-21, 6.3e-21], [4013, 2.3e-21, 6.3e-21], [4163, 2.35e-21, 6.5e-21], [4267, 2.4e-21, 6.5e-21], [4381, 2.45e-21, 6.7e-21],
  [4514, 2.5e-21, 6.7e-21], [4669, 2.6e-21, 6.8e-21], [4776, 2.65e-21, 6.8e-21], [4906, 2.7e-21, 6.8e-21],
];

// Annotation ellipses (centre in data coordinates)
const ELLIPSES = [
  { f: 61, v: 4.7e-20, rx: 354, ry: 184, rot: 70.9 },
  { f: 220, v: 6.3e-22, rx: 293, ry: 114, rot: 14 },
  { f: 1719, v: 8.9e-22, rx: 352, ry: 163, rot: -17.9 },
];

interface Series {
  label: string;
  line: Pt[];
  spikes?: Spk[];
  color: string;
  width: number;
  spikeWidth?: number;
  dash?: number[];
  legendWidth?: number;
  legendDash?: number[];
  order: number;
}

const SERIES: Series[] = [
  { label: "H", line: H_LINE, spikes: H_SPIKES, color: "#000000", width: 3, spikeWidth: 2.6, legendWidth: 1.5, order: 0 },
  { label: "MID AA FB Rot", line: ROT_LINE, color: "#22c4c4", width: 1.3, order: 4 },
  { label: "MID AA FB Tilt", line: TILT_LINE, color: "#0000ff", width: 1.3, order: 3 },
  { label: "SR longitudinal noise", line: SR_LINE, color: "#ff7f27", width: 1.4, order: 6 },
  { label: "Oscillator phase noise", line: PHASE_LINE, color: "#80ff00", width: 1.5, order: 6 },
  { label: "Oscillator amplitude noise", line: AMP_LINE, spikes: AMP_SPIKES, color: "#1f9a1f", width: 1.3, spikeWidth: 1.6, order: 8 },
  { label: "Laser amplitude noise", line: LASER_LINE, spikes: LASER_SPIKES, color: "#ff0000", width: 1.8, spikeWidth: 2, order: 7 },
  { label: "PR error", line: PR_LINE, spikes: PR_SPIKES, color: "#ff88c0", width: 1.6, spikeWidth: 1.4, order: 7 },
  { label: "Magnetic field", line: MAG_LINE, color: "#3f8080", width: 1.5, order: 5 },
  { label: "RF noise", line: RF_LINE, spikes: RF_SPIKES, color: "#233f88", width: 1.6, spikeWidth: 1.8, order: 5 },
  { label: "Dark noise", line: DARK_LINE, spikes: DARK_SPIKES, color: "#d4b990", width: 1.4, spikeWidth: 1.6, dash: [6, 4], legendDash: [30, 11], order: 6 },
  { label: "Model Shot 550Hz", line: SHOT_LINE, color: "#0000ff", width: 1.3, dash: [26, 10], legendDash: [30, 11], order: 2 },
  { label: "Sum of the noise", line: SUM_LINE, spikes: SUM_SPIKES, color: "#ff00ff", width: 3, spikeWidth: 3, legendWidth: 4, order: 1 },
];

const FONT = '"Liberation Sans", Arial, sans-serif';

function buildDatasets() {
  const ds: any[] = [];
  for (const s of SERIES) {
    ds.push({
      label: s.label,
      data: s.line.map(([x, y]) => ({ x, y })),
      borderColor: s.color,
      borderWidth: s.width,
      borderDash: s.dash || [],
      pointRadius: 0,
      tension: 0,
      fill: false,
      order: s.order,
    });
    if (s.spikes) {
      const pts: any[] = [];
      for (const [x, lo, hi] of s.spikes) {
        pts.push({ x, y: lo }, { x, y: hi }, { x, y: null });
      }
      ds.push({
        label: s.label + " lines",
        data: pts,
        borderColor: s.color,
        borderWidth: s.spikeWidth || s.width,
        pointRadius: 0,
        tension: 0,
        fill: false,
        spanGaps: false,
        order: s.order,
      });
    }
  }
  return ds;
}

const decor = {
  id: "decor",
  afterDraw(chart: any) {
    const { ctx, chartArea: a, scales } = chart;
    const xs = scales.x;
    const ys = scales.y;
    ctx.save();
    ctx.setLineDash([]);
    ctx.strokeStyle = "#000";
    ctx.lineWidth = 1.5;
    ctx.strokeRect(a.left, a.top, a.right - a.left, a.bottom - a.top);

    ctx.fillStyle = "#000";
    ctx.textBaseline = "alphabetic";
    for (const [v, e] of Y_TICK_LABELS) {
      const py = ys.getPixelForValue(v);
      ctx.font = `18px ${FONT}`;
      ctx.textAlign = "right";
      ctx.fillText(e, a.left - 7, py - 9);
      const we = ctx.measureText(e).width;
      ctx.font = `29px ${FONT}`;
      ctx.fillText("10", a.left - 7 - we - 3, py + 11);
    }
    ctx.textAlign = "left";
    for (const [v, e] of X_TICK_LABELS) {
      const px = xs.getPixelForValue(v);
      ctx.font = `29px ${FONT}`;
      const w10 = ctx.measureText("10").width;
      ctx.font = `18px ${FONT}`;
      const we = ctx.measureText(e).width;
      const start = px - (w10 + 2 + we) / 2;
      ctx.font = `29px ${FONT}`;
      ctx.fillText("10", start, a.bottom + 46);
      ctx.font = `18px ${FONT}`;
      ctx.fillText(e, start + w10 + 2, a.bottom + 26);
    }
    ctx.font = `29px ${FONT}`;
    ctx.textAlign = "center";
    ctx.fillText(X_TITLE, (a.left + a.right) / 2, a.bottom + 83);
    ctx.save();
    ctx.translate(a.left - 94, (a.top + a.bottom) / 2);
    ctx.rotate(-Math.PI / 2);
    ctx.fillText(Y_TITLE, 0, 0);
    ctx.restore();
    ctx.font = `22px ${FONT}`;
    ctx.fillText(TITLE, (a.left + a.right) / 2, a.top - 22);

    ctx.strokeStyle = "#ff0000";
    ctx.lineWidth = 5;
    ctx.shadowColor = "rgba(255,0,0,0.6)";
    ctx.shadowBlur = 2;
    for (const e of ELLIPSES) {
      const cx = xs.getPixelForValue(e.f);
      const cy = ys.getPixelForValue(e.v);
      ctx.beginPath();
      ctx.ellipse(cx, cy, e.rx, e.ry, (e.rot * Math.PI) / 180, 0, Math.PI * 2);
      ctx.stroke();
    }
    ctx.shadowBlur = 0;
    ctx.shadowColor = "transparent";

    const lx0 = 958, ly0 = 8, lx1 = 1425, ly1 = 560;
    ctx.fillStyle = "#fff";
    ctx.fillRect(lx0, ly0, lx1 - lx0, ly1 - ly0);
    ctx.strokeStyle = "#000";
    ctx.lineWidth = 1.2;
    ctx.strokeRect(lx0, ly0, lx1 - lx0, ly1 - ly0);
    ctx.font = `32px ${FONT}`;
    ctx.textAlign = "left";
    SERIES.forEach((s, i) => {
      const y = 31 + i * 42;
      ctx.strokeStyle = s.color;
      ctx.lineWidth = s.legendWidth || 1.5;
      ctx.setLineDash(s.legendDash || []);
      ctx.beginPath();
      ctx.moveTo(971, y);
      ctx.lineTo(1040, y);
      ctx.stroke();
      ctx.setLineDash([]);
      ctx.fillStyle = "#000";
      ctx.fillText(s.label, 1047, y + 12);
    });
    ctx.restore();
  },
};

export default function App() {
  const ref = useRef<HTMLCanvasElement>(null);
  useEffect(() => {
    const canvas = ref.current;
    if (!canvas) return;
    const chart = new Chart(canvas, {
      type: "line",
      data: { datasets: buildDatasets() },
      options: {
        animation: false,
        responsive: false,
        devicePixelRatio: 1,
        events: [],
        layout: { padding: { left: 130, right: 71, top: 74, bottom: 93 } },
        plugins: { legend: { display: false }, tooltip: { enabled: false }, title: { display: false } },
        elements: { point: { radius: 0 }, line: { tension: 0 } },
        scales: {
          x: {
            type: "logarithmic",
            min: X_MIN,
            max: X_MAX,
            ticks: { display: false },
            grid: { color: "#000", lineWidth: 1.2, drawTicks: false },
            border: { display: false, dash: [6, 4] },
            afterBuildTicks: (s: any) => {
              s.ticks = X_GRID.map((v) => ({ value: v }));
            },
          },
          y: {
            type: "logarithmic",
            min: Y_MIN,
            max: Y_MAX,
            ticks: { display: false },
            grid: { color: "#000", lineWidth: 1.2, drawTicks: false },
            border: { display: false, dash: [6, 4] },
            afterBuildTicks: (s: any) => {
              s.ticks = Y_GRID.map((v) => ({ value: v }));
            },
          },
        },
      } as any,
      plugins: [decor],
    });
    return () => chart.destroy();
  }, []);
  return (
    <div style={{ position: "absolute", left: 0, top: 0, width: 1514, height: 1177, background: "#fff" }}>
      <canvas ref={ref} width={1514} height={1177} style={{ display: "block", width: 1514, height: 1177 }} />
    </div>
  );
}
